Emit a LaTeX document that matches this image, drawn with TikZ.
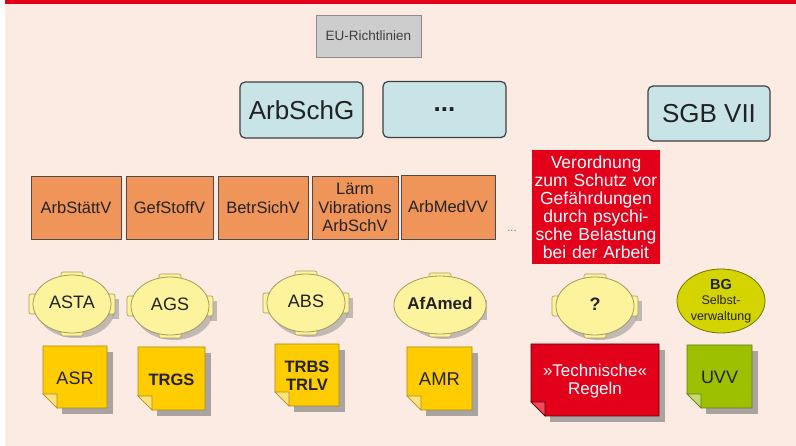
\documentclass[tikz,border=0pt]{standalone}
\usepackage{fontspec}
\setmainfont{Liberation Sans}
\usetikzlibrary{shapes.geometric}

\definecolor{bgpink}{HTML}{FCEBE3}
\definecolor{topred}{HTML}{E2001A}
\definecolor{lawblue}{HTML}{C8E4E6}
\definecolor{eugray}{HTML}{CDCDCD}
\definecolor{ordorange}{HTML}{F0955A}
\definecolor{postfill}{HTML}{FDF39C}
\definecolor{postline}{HTML}{A89A5C}
\definecolor{notey}{HTML}{FFCC00}
\definecolor{noteyline}{HTML}{A88C20}
\definecolor{noteyfold}{HTML}{FFE27A}
\definecolor{noter}{HTML}{E2001A}
\definecolor{noterline}{HTML}{5A0008}
\definecolor{noterfold}{HTML}{F04A5E}
\definecolor{noteg}{HTML}{9CC000}
\definecolor{notegline}{HTML}{65781E}
\definecolor{notegfold}{HTML}{C6DC6A}
\definecolor{bgolive}{HTML}{D4D400}
\definecolor{shadowgray}{HTML}{A9A4A2}
\definecolor{inkdark}{HTML}{222222}

\tikzset{
  lawbox/.style={draw=black!75, line width=1.2pt, rounded corners=5pt, fill=lawblue,
    minimum width=123pt, minimum height=56pt, inner sep=0pt, text=inkdark,
    font=\fontsize{26}{30}\selectfont},
  eubox/.style={draw=black!45, line width=0.8pt, fill=eugray, minimum width=105pt,
    minimum height=42pt, inner sep=0pt, text=black!75, font=\fontsize{13.5}{16}\selectfont},
  ordbox/.style={draw=black!70, line width=0.9pt, fill=ordorange, minimum height=63pt,
    inner sep=0pt, align=center, text=inkdark, font=\fontsize{16.5}{18.5}\selectfont},
  redbox/.style={fill=topred, text=white, inner sep=0pt, align=center},
  postbody/.style={ellipse, draw=postline, line width=0.8pt, fill=postfill,
    minimum width=78pt, minimum height=58pt, inner sep=0pt, text=inkdark},
  posthandle/.style={draw=postline, line width=0.6pt, fill=postfill, rounded corners=2pt},
  notetext/.style={text=inkdark, align=center, inner sep=0pt},
}

% yellow round body with four small handles and a drop shadow
\newcommand\roundpost[3]{% name, position, label
  \begin{scope}[shift={#2}]
    \fill[shadowgray, opacity=.7] (4,5) ellipse (39 and 29);
    \fill[shadowgray, opacity=.7] (40,-5) rectangle (47,15);
    \draw[posthandle] (-11,-32) rectangle (11,-26);
    \draw[posthandle] (-11,26) rectangle (11,32);
    \draw[posthandle] (-43,-10) rectangle (-35,10);
    \draw[posthandle] (35,-10) rectangle (43,10);
    \node[postbody] (#1) at (0,0) {\raisebox{4pt}{#3}};
  \end{scope}}

% square sheet with a folded bottom-left corner and a drop shadow;
% colours are taken from <prefix>, <prefix>line and <prefix>fold
\newcommand\notecard[8]{% name, x0, y0, x1, y1, colour prefix, node options, label
  \fill[shadowgray] (#2+19,#3+6) -- (#4+6,#3+6) -- (#4+6,#5+6) -- (#2+19,#5+6) -- cycle;
  \filldraw[fill=#6, draw=#6line, line width=0.7pt]
    (#2,#3) -- (#4,#3) -- (#4,#5) -- (#2+14,#5) -- (#2,#5-14) -- cycle;
  \filldraw[fill=#6fold, draw=#6line, line width=0.7pt]
    (#2,#5-14) -- (#2+14,#5-14) -- (#2+14,#5) -- cycle;
  \node[notetext, #7] (#1) at ({(#2+#4)/2},{(#3+#5)/2+1}) {#8};}

\begin{document}
\begin{tikzpicture}[x=1pt,y=-1pt]
  % canvas
  \useasboundingbox (0,0) rectangle (796,446);
  \fill[white] (0,0) rectangle (796,446);
  \fill[bgpink] (5,4) rectangle (796,446);
  \fill[topred] (5,0) rectangle (796,4);

  % top level
  \node[eubox] (eu) at (368.5,36) {EU-Richtlinien};
  \node[lawbox] (arbschg) at (301.5,110) {ArbSchG};
  \node[lawbox] (more) at (444.5,109.5) {\textbf{...}};
  \node[lawbox, minimum width=122pt, minimum height=55pt] (sgb) at (709,113.5) {SGB VII};

  % ordinances
  \node[ordbox, minimum width=90pt] (arbstaett) at (76,207.5) {ArbStättV};
  \node[ordbox, minimum width=87pt] (gefstoff) at (169.5,207.5) {GefStoffV};
  \node[ordbox, minimum width=90pt] (betrsich) at (263,207.5) {BetrSichV};
  \node[ordbox, minimum width=86pt] (laerm) at (355,207.5) {Lärm\\Vibrations\\ArbSchV};
  \node[ordbox, minimum width=94pt, minimum height=64pt] (arbmed) at (448,207) {ArbMedVV};
  \node[text=black!55, font=\fontsize{11}{12}\selectfont, inner sep=0pt] (etc) at (512,231) {...};
  \node[redbox, minimum width=128pt, minimum height=114pt, text width=126pt,
        font=\fontsize{17.5}{18}\selectfont] (psych) at (596,207)
        {Verordnung\\zum Schutz vor\\Gefährdungen\\durch psychi-\\sche Belastung\\bei der Arbeit};

  % committees
  \roundpost{asta}{(72,304)}{\fontsize{18}{20}\selectfont ASTA}
  \roundpost{ags}{(170,306)}{\fontsize{18}{20}\selectfont AGS}
  \roundpost{abs}{(306,303)}{\fontsize{18}{20}\selectfont ABS}
  \roundpost{afamed}{(440,305)}{\fontsize{17}{20}\selectfont\bfseries AfAmed}
  \roundpost{unknown}{(595,306)}{\fontsize{18}{20}\selectfont\bfseries ?}
  \node[ellipse, draw=black!45!bgolive, line width=0.8pt, fill=bgolive, minimum width=88pt,
        minimum height=64pt, inner sep=0pt, align=center, text=inkdark,
        font=\fontsize{12.5}{15.5}\selectfont] (bg) at (721,301)
        {{\fontsize{14.5}{15.5}\selectfont\bfseries BG}\\Selbst-\\verwaltung};

  % rule sets
  \notecard{asr}{43}{346}{107}{408}{notey}{font=\fontsize{18}{20}\selectfont}{ASR}
  \notecard{trgs}{138}{347}{205}{410}{notey}{font=\fontsize{16.5}{20}\selectfont\bfseries}{TRGS}
  \notecard{trbs}{275}{344}{339}{406}{notey}{font=\fontsize{16.5}{18}\selectfont\bfseries}{TRBS\\TRLV}
  \notecard{amr}{407}{347}{472}{410}{notey}{font=\fontsize{18.5}{20}\selectfont}{AMR}
  \notecard{techreg}{531}{344}{659}{416}{noter}{text=white, font=\fontsize{17}{18}\selectfont}{»Technische«\\Regeln}
  \notecard{uvv}{687}{345}{752}{408}{noteg}{font=\fontsize{18}{20}\selectfont}{UVV}
\end{tikzpicture}
\end{document}
